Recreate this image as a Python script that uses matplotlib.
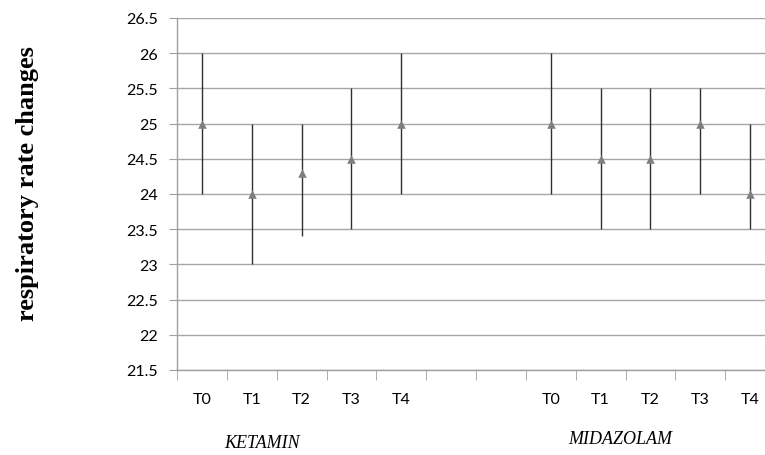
import matplotlib
matplotlib.use("Agg")
import matplotlib.pyplot as plt
import numpy as np

categories = ["T0", "T1", "T2", "T3", "T4", "", "", "T0", "T1", "T2", "T3", "T4"]
groups = ["KETAMIN", "MIDAZOLAM"]
ketamin_mean = [25.0, 24.0, 24.3, 24.5, 25.0]
ketamin_high = [26.0, 25.0, 25.0, 25.5, 26.0]
ketamin_low = [24.0, 23.0, 23.4, 23.5, 24.0]
midazolam_mean = [25.0, 24.5, 24.5, 25.0, 24.0]
midazolam_high = [26.0, 25.5, 25.5, 25.5, 25.0]
midazolam_low = [24.0, 23.5, 23.5, 24.0, 23.5]
y_ticks = [21.5, 22, 22.5, 23, 23.5, 24, 24.5, 25, 25.5, 26, 26.5]

fig = plt.figure(figsize=(7.65, 4.56), dpi=100)
ax = fig.add_axes([177/765, 85/456, 598/765, 352/456])

kx = np.arange(0, 5)
mx = np.arange(7, 12)
for xs, mean, hi, lo in [(kx, ketamin_mean, ketamin_high, ketamin_low),
                         (mx, midazolam_mean, midazolam_high, midazolam_low)]:
    mean = np.array(mean); hi = np.array(hi); lo = np.array(lo)
    ax.vlines(xs, lo, hi, colors="#303030", lw=1.0, zorder=3)
    ax.scatter(xs, mean, marker="^", s=38, color="#7f7f7f", zorder=4, linewidths=0)

ax.set_xlim(-0.5, len(categories) - 0.5)
ax.set_ylim(21.5, 26.5)
ax.set_yticks(y_ticks)
ax.set_yticklabels([f"{v:g}" for v in y_ticks], fontname="Lato", fontsize=11.5)
ax.set_xticks(np.arange(len(categories)))
ax.set_xticklabels(categories, fontname="Lato", fontsize=11.5)
ax.set_xticks(np.arange(len(categories) + 1) - 0.5, minor=True)
ax.tick_params(axis="x", which="major", length=0, pad=16)
ax.tick_params(axis="x", which="minor", length=7, color="#a0a0a0", direction="out")
ax.tick_params(axis="y", length=6, color="#a0a0a0", pad=8)
ax.grid(axis="y", color="#a6a6a6", lw=1.0)
ax.set_axisbelow(True)
for s in ["top", "right"]:
    ax.spines[s].set_visible(False)
for s in ["left", "bottom"]:
    ax.spines[s].set_color("#a0a0a0")
    ax.spines[s].set_linewidth(1.0)

fig.text(28/765, 1 - 184/456, "respiratory rate changes", fontname="Liberation Serif",
         fontweight="bold", fontsize=19, rotation=90, ha="center", va="center")

fig.text(262/765, 1 - 444/456, groups[0], fontname="Liberation Serif", style="italic",
         fontsize=13, ha="center", va="center")
fig.text(620/765, 1 - 440/456, groups[1], fontname="Liberation Serif", style="italic",
         fontsize=13, ha="center", va="center")

fig.savefig("out.png", dpi=100)
